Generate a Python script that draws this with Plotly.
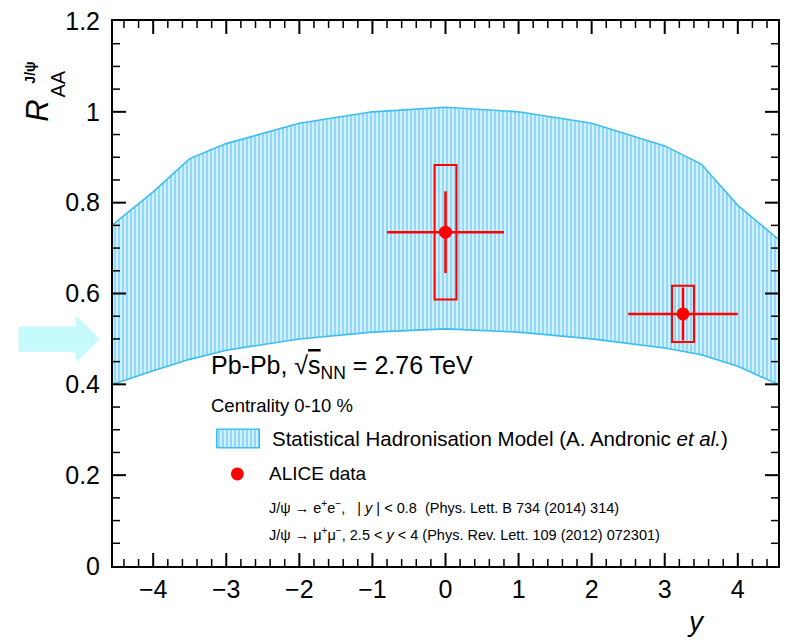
import numpy as np
import plotly.graph_objects as go

# Statistical Hadronisation Model band (R_AA vs rapidity)
band_rap = [-4.55, -4.0, -3.5, -3.0, -2.0, -1.0, 0.0, 1.0, 2.0, 3.0, 3.5, 4.0, 4.55]
band_upper = [0.752, 0.824, 0.897, 0.93, 0.975, 1.0, 1.01, 1.0, 0.975, 0.925, 0.885, 0.794, 0.72]
band_lower = [0.40, 0.43, 0.455, 0.475, 0.50, 0.515, 0.522, 0.515, 0.50, 0.48, 0.465, 0.44, 0.40]

# ALICE J/psi measurements, 0-10% Pb-Pb
data_rap = [0.0, 3.25]
data_raa = [0.735, 0.555]
data_rap_width = [0.8, 0.75]
data_stat = [0.09, 0.058]
data_syst = [0.148, 0.062]

# reference level marked by the arrow on the left
arrow_level = 0.5

x_ticks = [-4, -3, -2, -1, 0, 1, 2, 3, 4]
y_ticks = [0, 0.2, 0.4, 0.6, 0.8, 1.0, 1.2]
y_ticktext = ["0", "0.2", "0.4", "0.6", "0.8", "1", "1.2"]

X_RANGE = [-4.55, 4.55]
Y_RANGE = [0.0, 1.2]
X_MINOR_STEP = 0.2
Y_MINOR_STEP = 0.05

RED = "#ff0000"
BAND_LINE = "#3dbdf0"
FONT = "Liberation Sans, Arial, sans-serif"
PATTERN = dict(shape="|", fgcolor="#3fbff0", bgcolor="#d3effb", size=4, solidity=0.45)


def to_data(px, py):
    """Convert plot-area fractions into data coordinates."""
    return (X_RANGE[0] + (X_RANGE[1] - X_RANGE[0]) * px,
            Y_RANGE[0] + (Y_RANGE[1] - Y_RANGE[0]) * py)


fig = go.Figure()

fig.add_trace(go.Scatter(
    x=band_rap, y=band_lower, mode="lines",
    line=dict(color=BAND_LINE, width=1.6), showlegend=False, hoverinfo="skip"))
fig.add_trace(go.Scatter(
    x=band_rap, y=band_upper, mode="lines", fill="tonexty",
    fillcolor="rgba(0,0,0,0)", fillpattern=PATTERN,
    line=dict(color=BAND_LINE, width=1.6), showlegend=False, hoverinfo="skip"))

# systematic uncertainty boxes
box_half = 0.15
for xv, yv, sv in zip(data_rap, data_raa, data_syst):
    fig.add_shape(type="rect", xref="x", yref="y",
                  x0=xv - box_half, x1=xv + box_half, y0=yv - sv, y1=yv + sv,
                  line=dict(color=RED, width=2), fillcolor="rgba(0,0,0,0)")

fig.add_trace(go.Scatter(
    x=data_rap, y=data_raa, mode="markers",
    marker=dict(color=RED, size=13),
    error_x=dict(type="data", array=data_rap_width, color=RED, thickness=2.5, width=0),
    error_y=dict(type="data", array=data_stat, color=RED, thickness=2.5, width=0),
    showlegend=False))

# legend symbols
bx0, by0 = to_data(0.156, 0.217)
bx1, by1 = to_data(0.220, 0.251)
fig.add_trace(go.Scatter(
    x=[bx0, bx1, bx1, bx0, bx0], y=[by0, by0, by1, by1, by0],
    mode="lines", fill="toself", fillcolor="rgba(0,0,0,0)", fillpattern=PATTERN,
    line=dict(color=BAND_LINE, width=1.6), showlegend=False, hoverinfo="skip"))
mx, my = to_data(0.187, 0.169)
fig.add_trace(go.Scatter(
    x=[mx], y=[my], mode="markers",
    marker=dict(color=RED, size=13), showlegend=False, hoverinfo="skip"))

# arrow to the left of the axis
sh, hh = 0.028, 0.052
x_tail, x_neck, x_tip = -0.142, -0.056, -0.0195
fig.add_shape(
    type="path", xref="paper", yref="y",
    path=(f"M {x_tail} {arrow_level - sh} L {x_neck} {arrow_level - sh} "
          f"L {x_neck} {arrow_level - hh} L {x_tip} {arrow_level} "
          f"L {x_neck} {arrow_level + hh} L {x_neck} {arrow_level + sh} "
          f"L {x_tail} {arrow_level + sh} Z"),
    fillcolor="#c6fafc", line=dict(width=0))


# inward ticks on all four sides (major and minor), sized in pixels
def add_x_ticks(values, length, width):
    for v in values:
        for anchor, sign in ((Y_RANGE[0], 1), (Y_RANGE[1], -1)):
            fig.add_shape(type="line", xref="x", yref="y", ysizemode="pixel",
                          yanchor=anchor, x0=v, x1=v, y0=0, y1=sign * length,
                          line=dict(color="black", width=width), layer="above")


def add_y_ticks(values, length, width):
    for v in values:
        for anchor, sign in ((X_RANGE[0], 1), (X_RANGE[1], -1)):
            fig.add_shape(type="line", xref="x", yref="y", xsizemode="pixel",
                          xanchor=anchor, y0=v, y1=v, x0=0, x1=sign * length,
                          line=dict(color="black", width=width), layer="above")


x_minor = [round(v, 3) for v in np.arange(-4.4, 4.41, X_MINOR_STEP)
           if abs(v - round(v)) > 1e-6]
y_minor = [round(v, 3) for v in np.arange(Y_MINOR_STEP, Y_RANGE[1], Y_MINOR_STEP)
           if abs(v / 0.2 - round(v / 0.2)) > 1e-6]
add_x_ticks(x_ticks, 13, 2)
add_x_ticks(x_minor, 7, 1.5)
add_y_ticks(y_ticks[1:-1], 13, 2)
add_y_ticks(y_minor, 7, 1.5)

texts = [
    (0.145, 0.366, "Pb-Pb, √<span style='text-decoration:overline'>s</span><sub>NN</sub> = 2.76 TeV", 25),
    (0.145, 0.294, "Centrality 0-10 %", 18.5),
    (0.236, 0.234, "Statistical Hadronisation Model (A. Andronic <i>et al.</i>)", 20.5),
    (0.231, 0.169, "ALICE data", 19),
    (0.231, 0.108,
     "J/ψ → e<sup>+</sup>e<sup>−</sup>,   | <i>y</i> | &lt; 0.8  (Phys. Lett. B 734 (2014) 314)", 14.5),
    (0.231, 0.059,
     "J/ψ → μ<sup>+</sup>μ<sup>−</sup>, 2.5 &lt; <i>y</i> &lt; 4 (Phys. Rev. Lett. 109 (2012) 072301)", 14.5),
]
annotations = [
    dict(xref="paper", yref="paper", xanchor="left", yanchor="middle", showarrow=False,
         x=tx, y=ty, text=tt, font=dict(family=FONT, color="black", size=ts))
    for tx, ty, tt, ts in texts
]

# axis titles
annotations += [
    dict(xref="paper", yref="paper", x=0.877, y=-0.102, text="<i>y</i>", showarrow=False,
         xanchor="center", yanchor="middle", font=dict(family=FONT, size=28, color="black")),
    dict(xref="paper", yref="paper", x=-0.113, y=0.835, text="<i>R</i>", showarrow=False,
         textangle=-90, xanchor="center", yanchor="middle",
         font=dict(family=FONT, size=31, color="black")),
    dict(xref="paper", yref="paper", x=-0.083, y=0.885, text="AA", showarrow=False,
         textangle=-90, xanchor="center", yanchor="middle",
         font=dict(family=FONT, size=20, color="black")),
    dict(xref="paper", yref="paper", x=-0.125, y=0.905, text="<b>J/ψ</b>", showarrow=False,
         textangle=-90, xanchor="center", yanchor="middle",
         font=dict(family=FONT, size=14, color="black")),
]

fig.update_layout(
    width=787, height=640,
    margin=dict(l=113, r=7, t=17, b=74),
    paper_bgcolor="white", plot_bgcolor="white",
    annotations=annotations,
    showlegend=False,
)

fig.update_xaxes(
    range=X_RANGE, tickmode="array", tickvals=x_ticks,
    showline=True, linecolor="black", linewidth=2, mirror=True,
    ticks="", ticklabelstandoff=0,
    showgrid=False, zeroline=False, layer="above traces",
    tickfont=dict(family=FONT, size=25, color="black"),
)
fig.update_yaxes(
    range=Y_RANGE, tickmode="array", tickvals=y_ticks, ticktext=y_ticktext,
    showline=True, linecolor="black", linewidth=2, mirror=True,
    ticks="", ticklabelstandoff=6,
    showgrid=False, zeroline=False, layer="above traces",
    tickfont=dict(family=FONT, size=25, color="black"),
)

fig.write_html("out.html")
